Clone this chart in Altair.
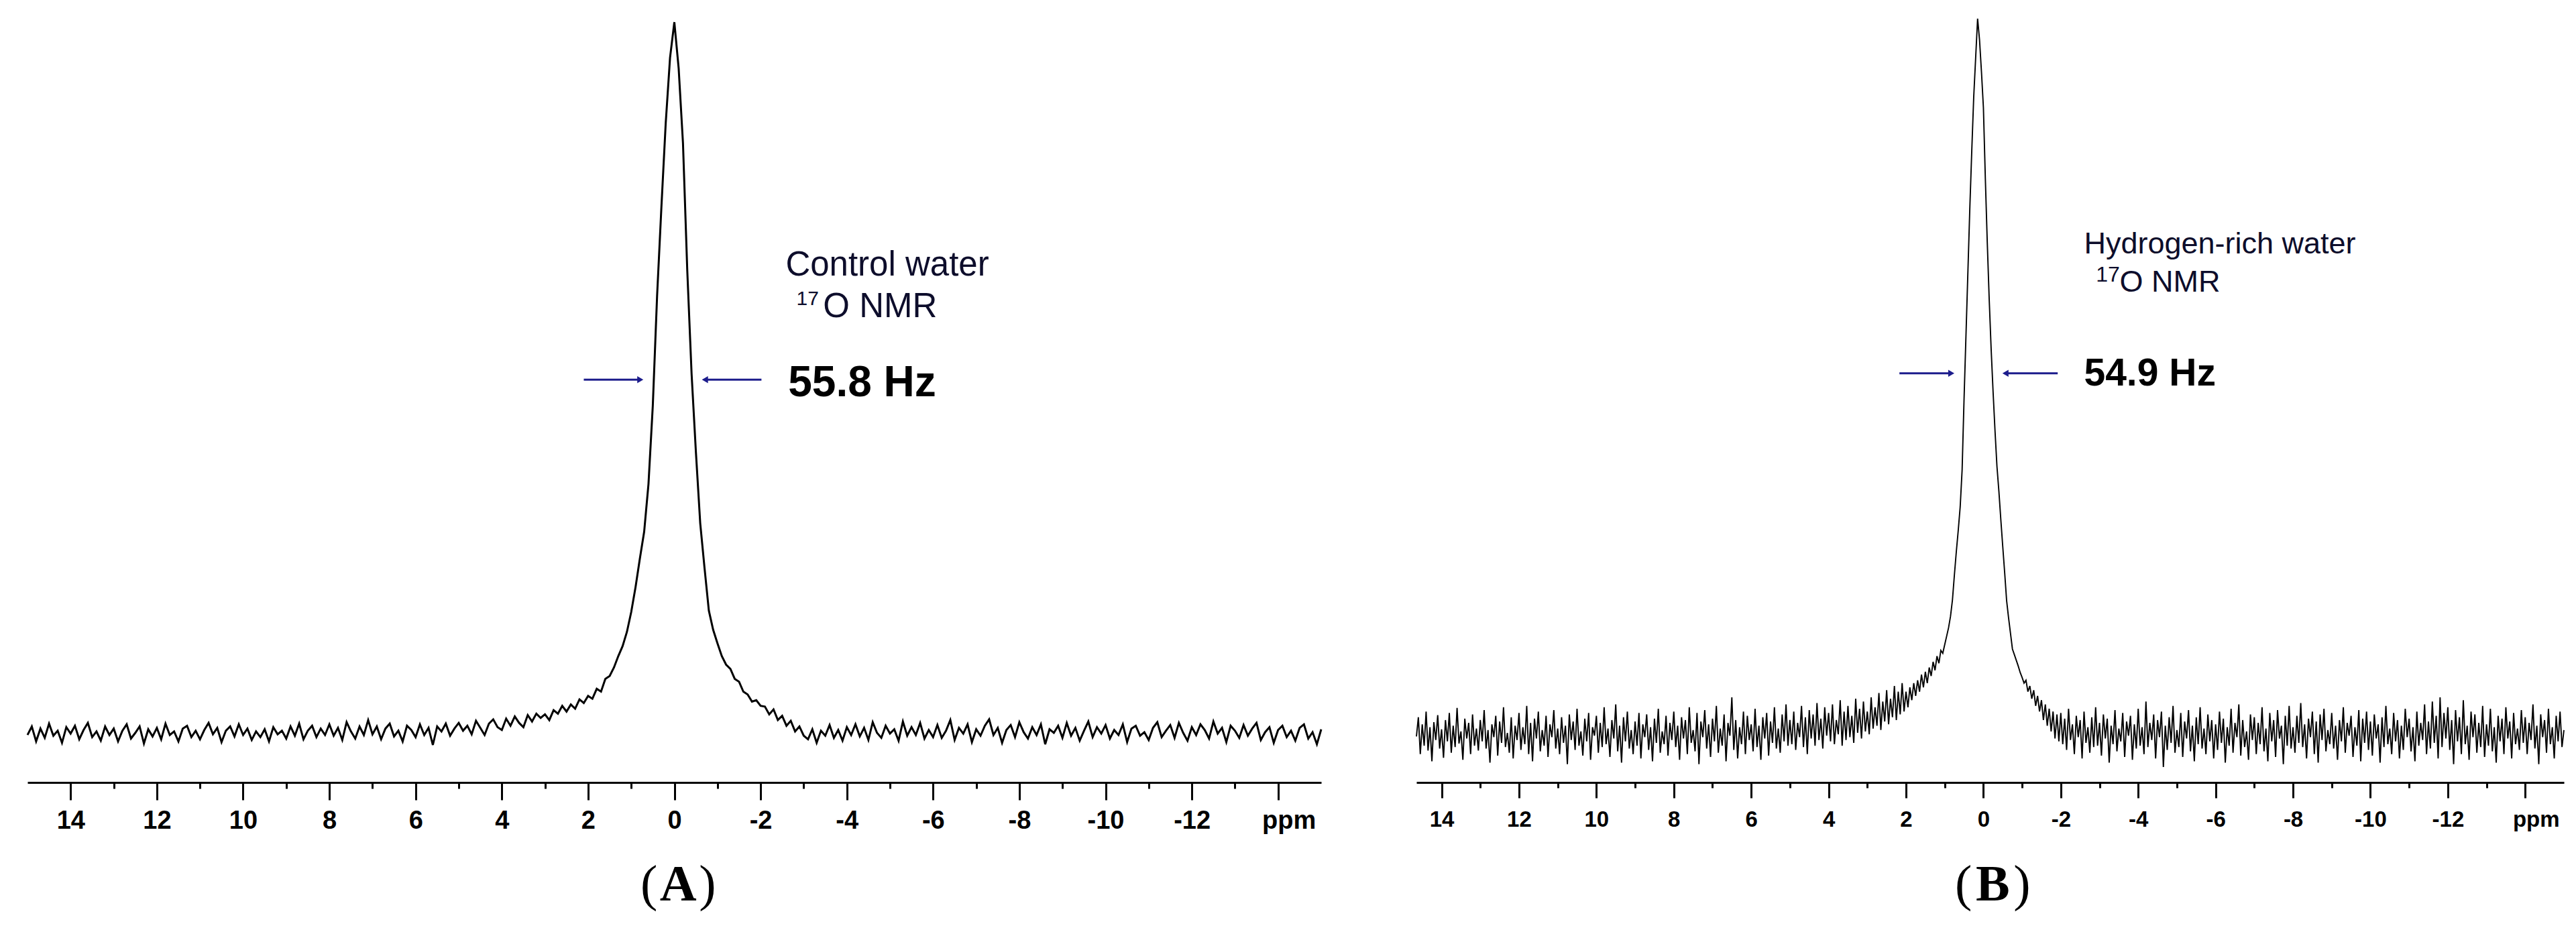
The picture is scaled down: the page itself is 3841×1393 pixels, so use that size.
import altair as alt
import pandas as pd

# ---------------- data ----------------
# Panel A: control water, sampled every 0.1 ppm, chunks start at the given ppm
A_STEP = 0.1
A_CHUNKS = [
    (15.0, [-3, 9, -12, 6, -7, 13, -4, 3, -14, 8]),
    (14.0, [-1, 10, -9, 4, 14, -6, 2, -11, 9, -3]),
    (13.0, [6, -12, 3, 12, -8, 0, 9, -15, 5, -5]),
    (12.0, [7, -9, 13, -3, 2, -12, 6, 10, -6, 3]),
    (11.0, [-9, 4, 14, -2, 7, -13, 3, 9, -5, 12]),
    (10.0, [-3, 6, -10, 2, -6, 5, -12, 8, -2, 3]),
    (9.0, [-8, 9, -4, 13, -9, 3, 10, -6, 6, -3]),
    (8.0, [12, -4, 7, -10, 15, 2, -8, 9, -3, 18]),
    (7.0, [-2, 9, -9, 6, 13, -5, 3, -12, 10, 4]),
    (6.0, [-6, 12, -3, 7, -17, 9, 2, 13, -4, 6]),
    (5.0, [14, 3, 10, -2, 17, 7, -3, 13, 19, 8]),
    (4.0, [4, 20, 10, 23, 14, 8, 25, 16, 27, 21]),
    (3.0, [26, 18, 32, 27, 38, 30, 40, 34, 47, 42]),
    (2.0, [52, 48, 62, 58, 76, 80, 92, 108, 122, 142]),
    (1.0, [170, 205, 245, 283, 350, 460, 615, 740, 858, 950]),
    (0.0, [1000, 935, 830, 650, 505, 395, 295, 232, 172, 145]),
    (-1.0, [126, 108, 96, 90, 76, 72, 58, 54, 44, 46]),
    (-2.0, [38, 37, 26, 33, 18, 24, 10, 17, 2, 9]),
    (-3.0, [-4, -9, 5, -14, 3, -4, 11, -7, 4, -11]),
    (-4.0, [8, -3, 12, -5, 7, -10, 15, 0, -7, 10]),
    (-5.0, [-1, 5, -11, 16, -4, 8, -3, 14, -8, 4]),
    (-6.0, [-6, 11, -7, 3, 18, -10, 7, -1, 12, -13]),
    (-7.0, [5, -4, 10, 19, -3, 7, -14, 4, 11, -6]),
    (-8.0, [15, 1, -8, 8, -3, 12, -16, 5, 0, 10]),
    (-9.0, [-7, 14, -4, 7, -11, 3, 16, -6, 8, -1]),
    (-10.0, [11, -8, 4, -3, 12, -13, 6, 10, -4, 1]),
    (-11.0, [-10, 7, 15, -6, 3, 11, -7, 14, 0, -11]),
    (-12.0, [8, -3, 12, 4, -8, 16, -1, 7, -13, 10]),
    (-13.0, [3, -7, 11, -4, 6, 14, -10, 1, 8, -14]),
    (-14.0, [4, 10, -6, 3, -11, 7, 12, -8, 1, -16]),
    (-15.0, [5]),
]

# Panel B: hydrogen-rich water, sampled every 0.05 ppm
B_STEP = 0.05
B_CHUNKS = [
    (14.65, [-5, 22, -30, 12, -18, 30, -25, 8, -40, 15, -10, 25, -22]),
    (14.0, [5, -35, 18, -12, 28, -28, 10, -20, 35, -15, 2, -38, 20, -8, 14, -30, 26, -18, 6, -25]),
    (13.0, [18, -12, 32, -22, 4, -42, 12, -6, 24, -32, 16, -14, 36, -20, 0, -28, 22, -36, 10, -10]),
    (12.0, [28, -24, 8, -16, 38, -30, 14, -40, 20, -8, 30, -26, 4, -18, 24, -34, 12, -6, 32, -22]),
    (11.0, [6, -30, 22, -14, 10, -44, 26, -10, 16, -24, 34, -18, 2, -32, 20, -12, 28, -38, 8, -4]),
    (10.0, [24, -28, 14, -20, 36, -16, 6, -34, 18, -8, 40, -26, 10, -42, 22, -12, 30, -22, 4, -30]),
    (9.0, [16, -18, 28, -36, 12, -6, 26, -24, 8, -40, 20, -14, 34, -28, 2, -16, 24, -32, 14, -10]),
    (8.0, [30, -20, 10, -38, 22, -8, 18, -30, 36, -14, 4, -26, 28, -44, 16, -6, 32, -22, 12, -34]),
    (7.0, [20, -12, 38, -28, 6, -18, 26, -40, 14, -4, 50, -24, 18, -36, 8, -16, 30, -30, 24, -10]),
    (6.0, [12, -26, 34, -20, 10, -38, 22, -8, 28, -32, 16, -14, 36, -22, 6, -28, 26, -12, 40, -18]),
    (5.0, [18, -16, 30, -24, 14, -6, 38, -20, 22, -30, 32, -8, 26, -18, 42, -10, 20, -22, 36, -4]),
    (4.0, [28, -12, 40, -16, 18, -2, 46, -18, 30, -10, 38, -6, 24, -14, 48, 0, 34, -8, 44, 2]),
    (3.0, [30, -2, 50, 6, 36, 10, 56, 4, 44, 16, 60, 12, 48, 22, 66, 18, 58, 26, 70, 30]),
    (2.0, [58, 36, 64, 46, 70, 52, 74, 58, 82, 64, 86, 70, 92, 80, 100, 88, 108, 98, 116, 112]),
    (1.0, [124, 136, 148, 164, 187, 222, 255, 285, 318, 370, 470, 560, 650, 740, 820, 895, 950, 1005, 975, 930]),
    (0.0, [880, 780, 690, 610, 540, 480, 425, 375, 340, 300, 262, 225, 186, 162, 140, 118, 110, 102, 94, 85]),
    (-1.0, [78, 70, 74, 58, 66, 48, 60, 38, 52, 30, 46, 18, 40, 10, 34, 2, 30, -8, 26, -12]),
    (-2.0, [28, -16, 20, -24, 34, -10, 12, -30, 24, -6, 18, -36, 30, -14, 8, -28, 22, -20, 36, -18]),
    (-3.0, [14, -32, 26, -8, 20, -42, 10, -16, 32, -26, 6, -12, 28, -34, 16, -4, 24, -38, 12, -22]),
    (-4.0, [34, -18, 8, -30, 44, -20, 14, -10, 26, -36, 18, -6, 30, -48, 10, -24, 22, -14, 38, -28]),
    (-5.0, [4, -20, 28, -34, 16, -8, 32, -26, 10, -40, 22, -16, 36, -22, 6, -30, 26, -12, 18, -36]),
    (-6.0, [12, -24, 30, -14, 20, -42, 8, -18, 34, -28, 14, -6, 40, -32, 18, -20, 2, -38, 26, -10]),
    (-7.0, [22, -30, 14, -16, 36, -26, 6, -40, 28, -12, 18, -34, 32, -8, 10, -44, 24, -18, 38, -22]),
    (-8.0, [8, -28, 24, -14, 42, -20, 12, -36, 20, -6, 30, -30, 16, -42, 26, -10, 34, -26, 4, -16]),
    (-9.0, [28, -22, 10, -38, 18, -12, 36, -28, 14, -4, 24, -34, 8, -18, 32, -40, 20, -14, 30, -24]),
    (-10.0, [16, -32, 26, -8, 12, -42, 22, -20, 38, -16, 6, -30, 28, -12, 18, -36, 10, -24, 34, -6]),
    (-11.0, [20, -26, 8, -40, 30, -18, 14, -10, 40, -30, 16, -22, 44, -14, 24, -36, 50, -20, 28, -8]),
    (-12.0, [36, -24, 18, -44, 32, -12, 22, -30, 46, -16, 10, -38, 30, -6, 26, -28, 14, -20, 38, -34]),
    (-13.0, [12, -18, 34, -26, 8, -42, 24, -12, 20, -30, 36, -8, 16, -36, 28, -16, 6, -24, 32, -14]),
    (-14.0, [22, -30, 14, -10, 40, -22, 10, -44, 26, -6, 18, -28, 34, -16, 8, -36, 24, -12, 30, -20]),
    (-15.0, [4]),
]

TICK_VALUES = list(range(14, -15, -1))
A_X_DOMAIN = [15.0, -15.0]
B_X_DOMAIN = [14.65, -15.0]
Y_DOMAIN = [-69.8, 1012.3]

# annotation arrows (ppm start, ppm end of shaft, arrow head, intensity level)
A_ARROWS = {"x1": [2.10, -2.02], "x2": [0.80, -0.72], "v": [497, 497],
            "head": [0.79, -0.71], "shape": ["triangle-right", "triangle-left"]}
B_ARROWS = {"x1": [2.17, -1.92], "x2": [0.83, -0.57], "v": [506, 506],
            "head": [0.83, -0.57], "shape": ["triangle-right", "triangle-left"]}

A_TITLE = ["Control water", "17", "O NMR", "55.8 Hz"]
B_TITLE = ["Hydrogen-rich water", "17", "O NMR", "54.9 Hz"]


def build(chunks, step):
    ppm, val = [], []
    for start, vals in chunks:
        for i, v in enumerate(vals):
            ppm.append(round(start - i * step, 4))
            val.append(v)
    return pd.DataFrame({"ppm": ppm, "v": val})


NAVY = "#1c1c8c"
TXT = "#0d0d2b"


def make_panel(df, xdom, width, line_w, label_size, major, minor, pad,
               arrows, titles, tpos, panel_letter, letter_ppm):
    xs = alt.Scale(domain=xdom, nice=False, zero=False)
    ys = alt.Scale(domain=Y_DOMAIN, nice=False, zero=False)
    axis = alt.Axis(
        values=TICK_VALUES, title=None, grid=False,
        domainColor="black", domainWidth=3,
        tickColor="black", tickWidth=3,
        tickSize={"condition": {"test": "datum.value % 2 == 0", "value": major}, "value": minor},
        labelExpr="datum.value % 2 != 0 ? '' : (datum.value == -14 ? 'ppm' : '' + datum.value)",
        labelFont="Liberation Sans", labelFontWeight="bold", labelFontSize=label_size,
        labelColor="black", labelPadding=pad,
        labelOffset={"condition": {"test": "datum.value == -14", "value": 16}, "value": 0},
        labelOverlap=False, labelFlush=False, labelBound=False,
    )

    def X(field):
        return alt.X(field, scale=xs, axis=axis, title=None)

    def Y(field):
        return alt.Y(field, scale=ys, axis=None, title=None)

    line = alt.Chart(df).mark_line(color="black", strokeWidth=line_w).encode(
        x=X("ppm:Q"), y=Y("v:Q"),
    )
    adf = pd.DataFrame(arrows)
    rules = alt.Chart(adf).mark_rule(color=NAVY, strokeWidth=3).encode(
        x=X("x1:Q"), x2="x2:Q", y=Y("v:Q"),
    )
    heads = alt.Chart(adf).mark_point(filled=True, color=NAVY, size=110, opacity=1).encode(
        x=X("head:Q"), y=Y("v:Q"),
        shape=alt.Shape("shape:N", scale=None),
    )

    def txt(ppm, val, t, size, weight="normal", font="Liberation Sans",
            align="left", dx=0, color=TXT):
        d = pd.DataFrame({"ppm": [ppm], "v": [val], "t": [t]})
        return alt.Chart(d).mark_text(
            align=align, baseline="alphabetic", font=font, fontSize=size,
            fontWeight=weight, dx=dx, color=color
        ).encode(x=X("ppm:Q"), y=Y("v:Q"), text="t:N")

    layers = [line, rules, heads]
    (p0, v0, s0), (p1, v1, s1), (p2, v2, s2), (p3, v3, s3) = tpos
    layers.append(txt(p0, v0, titles[0], s0))
    layers.append(txt(p1, v1, titles[1], s1))
    layers.append(txt(p2, v2, titles[2], s2))
    layers.append(txt(p3, v3, titles[3], s3, weight="bold", color="black"))
    layers.append(txt(letter_ppm, -235.8, "(", 76, font="Liberation Serif", align="right", dx=-31, color="black"))
    layers.append(txt(letter_ppm, -235.8, panel_letter, 76, weight="bold", font="Liberation Serif", align="center", color="black"))
    layers.append(txt(letter_ppm, -235.8, ")", 76, font="Liberation Serif", align="left", dx=31, color="black"))
    return alt.layer(*layers).properties(width=width, height=1147)


dfA = build(A_CHUNKS, A_STEP)
dfB = build(B_CHUNKS, B_STEP)

panelA = make_panel(
    dfA, A_X_DOMAIN, 1929, 3.0, 38, 26, 9, 12, A_ARROWS, A_TITLE,
    [(-2.58, 643, 51), (-2.83, 602, 30), (-3.45, 585, 51), (-2.64, 474, 64)],
    "A", -0.09,
)
panelB = make_panel(
    dfB, B_X_DOMAIN, 1711, 1.9, 33, 23, 8, 16, B_ARROWS, B_TITLE,
    [(-2.60, 675, 45), (-2.91, 635, 32), (-3.52, 621, 45), (-2.60, 489, 57)],
    "B", -0.24,
)

chart = alt.hconcat(panelA, panelB, spacing=132).properties(
    padding={"left": 27, "top": 12, "right": 4, "bottom": 4},
    background="white",
).configure_view(stroke=None)

chart.save("out.html", embed_options={"renderer": "svg", "actions": False})
